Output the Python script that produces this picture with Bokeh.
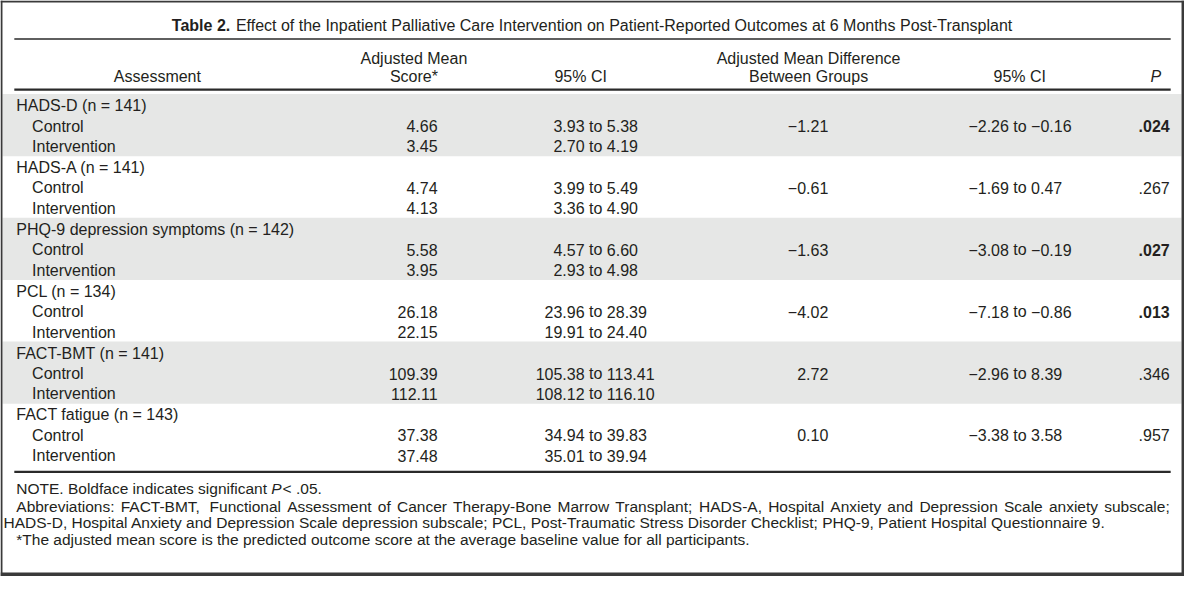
from bokeh.plotting import figure
from bokeh.models import Range1d, ColumnDataSource
from bokeh.embed import file_html
from bokeh.resources import INLINE
from bokeh.core.properties import value

FONT = "Liberation Sans"
INK = "#231f20"

# ---------------- data ----------------
title_bold = "Table 2."
title_rest = "Effect of the Inpatient Palliative Care Intervention on Patient-Reported Outcomes at 6 Months Post-Transplant"

header_assessment = "Assessment"
header_mean = ["Adjusted Mean", "Score*"]
header_ci = "95% CI"
header_diff = ["Adjusted Mean Difference", "Between Groups"]
header_p = "P"

groups = ["HADS-D (n = 141)", "HADS-A (n = 141)", "PHQ-9 depression symptoms (n = 142)",
          "PCL (n = 134)", "FACT-BMT (n = 141)", "FACT fatigue (n = 143)"]
arms = ["Control", "Intervention"]

ctrl_mean = [4.66, 4.74, 5.58, 26.18, 109.39, 37.38]
ctrl_lo = [3.93, 3.99, 4.57, 23.96, 105.38, 34.94]
ctrl_hi = [5.38, 5.49, 6.60, 28.39, 113.41, 39.83]
int_mean = [3.45, 4.13, 3.95, 22.15, 112.11, 37.48]
int_lo = [2.70, 3.36, 2.93, 19.91, 108.12, 35.01]
int_hi = [4.19, 4.90, 4.98, 24.40, 116.10, 39.94]
diff = [-1.21, -0.61, -1.63, -4.02, 2.72, 0.10]
diff_lo = [-2.26, -1.69, -3.08, -7.18, -2.96, -3.38]
diff_hi = [-0.16, 0.47, -0.19, -0.86, 8.39, 3.58]
p_vals = [0.024, 0.267, 0.027, 0.013, 0.346, 0.957]

note_a = "NOTE. Boldface indicates significant"
note_p = "P"
note_b = "< .05."
abbrev_line1 = "Abbreviations: FACT-BMT, Functional Assessment of Cancer Therapy-Bone Marrow Transplant; HADS-A, Hospital Anxiety and Depression Scale anxiety subscale;"
abbrev_line2 = "HADS-D, Hospital Anxiety and Depression Scale depression subscale; PCL, Post-Traumatic Stress Disorder Checklist; PHQ-9, Patient Hospital Questionnaire 9."
star_note = "*The adjusted mean score is the predicted outcome score at the average baseline value for all participants."


def fmt(v):
    return f"{v:.2f}".replace("-", "\u2212")


def fmt_p(v):
    return f"{v:.3f}".lstrip("0")


# Arial / Liberation Sans advance widths (1/1000 em), used only for text placement
_AW = {" ": 278, "(": 333, ")": 333, "*": 389, ",": 278, "-": 333, ".": 278, ":": 278, ";": 278,
       "<": 584, "=": 584, "%": 889, "\u2212": 584}
_AW.update({d: 556 for d in "0123456789"})
_AW.update(dict(zip("ABCDEFGHIJKLMNOPQRSTUVWXYZ",
                    [667, 667, 722, 722, 667, 611, 778, 722, 278, 500, 667, 556, 833, 722, 778, 667,
                     778, 722, 667, 611, 722, 667, 944, 667, 667, 611])))
_AW.update(dict(zip("abcdefghijklmnopqrstuvwxyz",
                    [556, 556, 500, 556, 556, 278, 556, 556, 222, 222, 500, 222, 833, 556, 556, 556,
                     556, 333, 500, 278, 556, 500, 722, 500, 500, 500])))


def tw(s, size):
    return sum(_AW.get(c, 556) for c in s) * size / 1000.0


# ---------------- layout ----------------
W, H = 1200, 592
PW, PH = 1184, 576
SX = PW / W
p = figure(width=PW, height=PH, x_range=Range1d(0, W), y_range=Range1d(H, 0),
           output_backend="svg", toolbar_location=None, min_border=0,
           x_axis_location=None, y_axis_location=None)
p.grid.visible = False
p.outline_line_color = None
p.background_fill_color = "white"
p.border_fill_color = "white"

BODY = 16
FOOT = 15.5

row0 = 108.0
group_h = 63.6
row_h = 21.0

# grey bands for alternating groups
band_top, band_bot = [], []
for g in range(len(groups)):
    if g % 2 == 0:
        gy = row0 + g * group_h
        band_top.append(gy - 12)
        band_bot.append(gy + 52)
p.quad(left=2, right=1197, top=band_top, bottom=band_bot, fill_color="#e6e7e6", line_color=None)

# rules
p.segment(x0=[14], x1=[1186], y0=[39.5], y1=[39.5], line_color="#2a2a2a", line_width=1.5)
p.segment(x0=[14, 14], x1=[1186, 1186], y0=[91.5, 484.5], y1=[91.5, 484.5], line_color="#2a2a2a", line_width=2.2)

# outer frame
p.quad(left=[0, 0, 1197, 0], right=[2, 1200, 1200, 1200], top=[0, 0, 0, 588], bottom=[592, 2, 592, 592],
       fill_color="#3a3a3a", line_color=None)


def txt(xs, ys, texts, align="left", size=BODY, style="normal", x_offset=None):
    n = len(texts)
    src = ColumnDataSource(dict(x=list(xs), y=list(ys), t=list(texts),
                                xo=list(x_offset) if x_offset is not None else [0] * n))
    p.text(x="x", y="y", text="t", source=src, text_align=align, text_baseline="middle",
           text_font=value(FONT), text_font_size=f"{size}px", text_font_style=style,
           text_color=INK, x_offset="xo")


# title (centred on the table)
bold_w = 3724 * BODY / 1000.0
space_w = tw(" ", BODY)
total_w = bold_w + space_w + tw(title_rest, BODY)
title_x = 600 - (total_w / 2) / SX
txt([title_x], [26], [title_bold], style="bold")
txt([title_x], [26], [title_rest], x_offset=[bold_w + space_w])

# header
txt([159], [78], [header_assessment], align="center")
txt([419, 419], [60, 78], header_mean, align="center")
txt([588], [78], [header_ci], align="center")
txt([819, 819], [60, 78], header_diff, align="center")
txt([1033], [78], [header_ci], align="center")
txt([1171], [78], [header_p], align="center", style="italic")

# body
gx, gyv, gt = [], [], []
ax, ay, at = [], [], []
mean_y, mean_t = [], []
lo_t, hi_t, ci_y = [], [], []
d_y, d_t, dlo_t, dhi_t = [], [], [], []
pb_y, pb_t, pn_y, pn_t = [], [], [], []
for g, name in enumerate(groups):
    gy = row0 + g * group_h
    gx.append(16); gyv.append(gy); gt.append(name)
    yc, yi = gy + row_h, gy + 2 * row_h
    ax += [32, 32]; ay += [yc, yi]; at += arms
    mean_y += [yc, yi]; mean_t += [fmt(ctrl_mean[g]), fmt(int_mean[g])]
    ci_y += [yc, yi]
    lo_t += [fmt(ctrl_lo[g]), fmt(int_lo[g])]
    hi_t += [fmt(ctrl_hi[g]), fmt(int_hi[g])]
    d_y.append(yc); d_t.append(fmt(diff[g]))
    dlo_t.append(fmt(diff_lo[g])); dhi_t.append(fmt(diff_hi[g]))
    if p_vals[g] < 0.05:
        pb_y.append(yc); pb_t.append(fmt_p(p_vals[g]))
    else:
        pn_y.append(yc); pn_t.append(fmt_p(p_vals[g]))

# "lo to hi" interval columns, aligned on the word "to"
sp = tw(" ", BODY) / SX
to_w = tw("to", BODY) / SX
CI1_R, CI2_R = 592, 1022

txt(gx, gyv, gt)
txt(ax, ay, at)
txt([443] * len(mean_y), mean_y, mean_t, align="right")
txt([CI1_R] * len(ci_y), ci_y, lo_t, align="right")
txt([CI1_R + sp + to_w / 2] * len(ci_y), ci_y, ["to"] * len(ci_y), align="center")
txt([CI1_R + 2 * sp + to_w] * len(ci_y), ci_y, hi_t, align="left")
txt([839] * len(d_y), d_y, d_t, align="right")
txt([CI2_R] * len(d_y), d_y, dlo_t, align="right")
txt([CI2_R + sp + to_w / 2] * len(d_y), d_y, ["to"] * len(d_y), align="center")
txt([CI2_R + 2 * sp + to_w] * len(d_y), d_y, dhi_t, align="left")
txt([1185] * len(pb_y), pb_y, pb_t, align="right", style="bold")
txt([1185] * len(pn_y), pn_y, pn_t, align="right")

# footnotes
na_w = tw(note_a + " ", FOOT)
txt([16], [502], [note_a], size=FOOT)
txt([16], [502], [note_p], size=FOOT, style="italic", x_offset=[na_w])
txt([16], [502], [note_b], size=FOOT, x_offset=[na_w + tw("P", FOOT) + 1])

# justified abbreviation line (spans the full table width)
words = abbrev_line1.split(" ")
target = (1185 - 16) * SX
ww = [tw(w_, FOOT) for w_ in words]
gap = (target - sum(ww)) / (len(words) - 1)
offs, acc = [], 0.0
for w_ in ww:
    offs.append(acc)
    acc += w_ + gap
txt([16] * len(words), [520] * len(words), words, size=FOOT, x_offset=offs)

txt([3, 16], [537, 554], [abbrev_line2, star_note], size=FOOT)

open("out.html", "w").write(file_html(p, INLINE))
